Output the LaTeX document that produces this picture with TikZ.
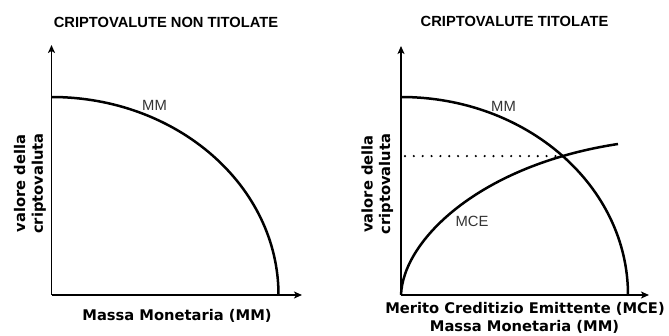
\documentclass[tikz,border=0pt]{standalone}
\usepackage{fontspec}
\setmainfont{Liberation Sans}
\newfontfamily\axfont{DejaVu Sans}
\usetikzlibrary{arrows.meta,intersections,calc}
\definecolor{lbl}{HTML}{333333}
\tikzset{
  axis/.style={line width=1.5pt,-{Stealth[length=8pt,width=7pt,inset=2pt]}},
  curve/.style={line width=2.5pt},
  dotline/.style={line width=2.4pt,line cap=round,dash pattern=on 0pt off 8.85pt},
  ttl/.style={inner sep=0pt,anchor=base,font=\fontsize{14.7}{17}\selectfont\bfseries},
  clbl/.style={inner sep=0pt,anchor=base,text=lbl,font=\fontsize{14.8}{17}\selectfont},
  axl/.style={inner sep=0pt,anchor=base,font=\axfont\fontsize{14.7}{17.7}\selectfont\bfseries},
  ylbl/.style={inner sep=0pt,rotate=90,align=center,font=\axfont\fontsize{14.7}{17.7}\selectfont\bfseries}
}
\begin{document}
\begin{tikzpicture}[x=1pt,y=1pt]
\useasboundingbox (0,0) rectangle (669,335);
% ---------- left panel ----------
\coordinate (O1) at (51.5,40);
\coordinate (Y1) at (51.5,290);
\coordinate (X1) at (302,40);
\coordinate (S1) at (51.5,238);
\draw[axis] (O1) -- (Y1);
\draw[axis] (O1) -- (X1);
\draw[curve] (S1) arc[start angle=90,end angle=0,x radius=227,y radius=198];
\node[ttl] (t1) at (166,307.7) {CRIPTOVALUTE NON TITOLATE};
\node[clbl] (mm1) at (154.5,224.3) {MM};
\node[ylbl] (yl1) at (30,151.5) {valore della\\criptovaluta};
\node[axl] (xl1) at (177,15) {Massa Monetaria (MM)};
% ---------- right panel ----------
\coordinate (O2) at (401,40);
\coordinate (Y2) at (401,289);
\coordinate (X2) at (649,40);
\coordinate (S2) at (401,238);
\coordinate (E2) at (618,191);
\draw[axis] (O2) -- (Y2);
\draw[axis] (O2) -- (X2);
\draw[curve,name path=mm2] (S2) arc[start angle=90,end angle=0,x radius=227,y radius=198];
\draw[curve,name path=mce] (O2) .. controls (403,95) and (480,170) .. (E2);
\path[name intersections={of=mm2 and mce,by=X}];
\coordinate (d0) at (X -| O2);
\draw[dotline] ([xshift=4pt]d0) -- (X);
\node[ttl] (t2) at (514.5,308.3) {CRIPTOVALUTE TITOLATE};
\node[clbl] (mm2l) at (503.5,223.3) {MM};
\node[clbl] (mcel) at (472,108.3) {MCE};
\node[ylbl] (yl2) at (377.3,151) {valore della\\criptovaluta};
\node[axl] (xl2a) at (525,21.5) {Merito Creditizio Emittente (MCE)};
\node[axl] (xl2b) at (524.5,3.5) {Massa Monetaria (MM)};
\end{tikzpicture}
\end{document}
